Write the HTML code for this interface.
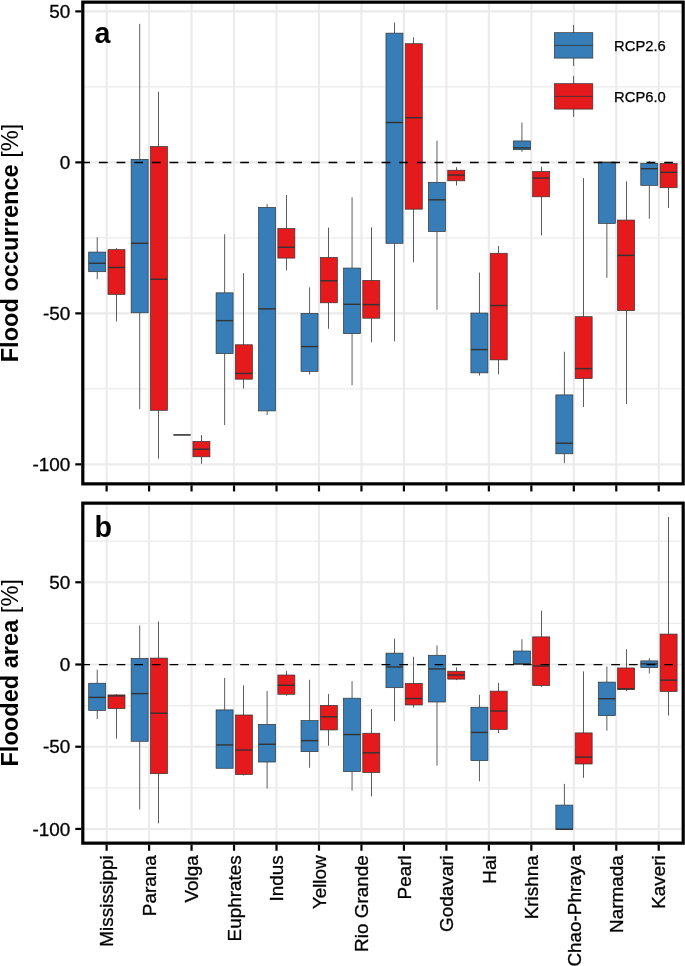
<!DOCTYPE html>
<html><head><meta charset="utf-8"><title>Flood boxplots</title><style>
html,body{margin:0;padding:0;background:#fff;}
body{width:685px;height:966px;overflow:hidden;font-family:"Liberation Sans",sans-serif;}
svg{display:block;will-change:transform;font-family:"Liberation Sans",sans-serif;}
.gm{stroke:#ebebeb;stroke-width:2.1;fill:none}
.gn{stroke:#ebebeb;stroke-width:1.1;fill:none}
.w{stroke:#333;stroke-width:0.8;fill:none}
.b{stroke:#333;stroke-width:0.7}
.m{stroke:#333;stroke-width:1.4;fill:none}
.z{stroke:#000;stroke-width:1.45;stroke-dasharray:8.75 8.917;fill:none}
.fr{stroke:#000;stroke-width:3.2;fill:none}
.t{stroke:#000;stroke-width:2.2;fill:none}
.yl{font-size:18.9px;text-anchor:end;fill:#000;stroke:#000;stroke-width:0.3px}
.xl{font-size:18.9px;text-anchor:end;fill:#000;stroke:#000;stroke-width:0.3px}
.lg{font-size:14.75px;fill:#000;stroke:#000;stroke-width:0.25px}
.pl{font-size:28.6px;font-weight:bold;fill:#000}
.yt{font-size:23.6px;text-anchor:middle;fill:#000}
.bd{font-weight:bold}
</style></head><body><svg width="685" height="966" viewBox="0 0 685 966"><rect width="685" height="966" fill="#fff"/><path d="M82.8 86.89H683.2" class="gn"/><path d="M82.8 237.87H683.2" class="gn"/><path d="M82.8 388.86H683.2" class="gn"/><path d="M82.8 11.4H683.2" class="gm"/><path d="M82.8 162.38H683.2" class="gm"/><path d="M82.8 313.37H683.2" class="gm"/><path d="M82.8 464.35H683.2" class="gm"/><path d="M106.63 2.15V483.85" class="gm"/><path d="M149.1 2.15V483.85" class="gm"/><path d="M191.57 2.15V483.85" class="gm"/><path d="M234.04 2.15V483.85" class="gm"/><path d="M276.51 2.15V483.85" class="gm"/><path d="M318.98 2.15V483.85" class="gm"/><path d="M361.45 2.15V483.85" class="gm"/><path d="M403.92 2.15V483.85" class="gm"/><path d="M446.39 2.15V483.85" class="gm"/><path d="M488.86 2.15V483.85" class="gm"/><path d="M531.33 2.15V483.85" class="gm"/><path d="M573.8 2.15V483.85" class="gm"/><path d="M616.27 2.15V483.85" class="gm"/><path d="M658.74 2.15V483.85" class="gm"/><path d="M97.23 237.27V252.07" class="w"/><path d="M97.23 271.69V279.24" class="w"/><rect x="88.68" y="252.07" width="17" height="19.63" fill="#377EB8" class="b"/><path d="M88.68 263.24H105.68" class="m"/><path d="M116.5 248.14V249.65" class="w"/><path d="M116.5 294.34V321.52" class="w"/><rect x="107.98" y="249.65" width="17" height="44.69" fill="#E41A1C" class="b"/><path d="M107.98 267.47H124.98" class="m"/><path d="M139.7 23.78V159.36" class="w"/><path d="M139.7 312.76V409.09" class="w"/><rect x="131.15" y="159.36" width="17" height="153.4" fill="#377EB8" class="b"/><path d="M131.15 243.31H148.15" class="m"/><path d="M158.5 91.72V146.53" class="w"/><path d="M158.5 410.3V458.61" class="w"/><rect x="150.45" y="146.53" width="17" height="263.77" fill="#E41A1C" class="b"/><path d="M150.45 279.24H167.45" class="m"/><rect x="173.62" y="434.91" width="17" height="0.01" fill="#377EB8" class="b"/><path d="M173.62 434.91H190.62" class="m"/><path d="M201.5 435.06V441.4" class="w"/><path d="M201.5 456.8V463.75" class="w"/><rect x="192.92" y="441.4" width="17" height="15.4" fill="#E41A1C" class="b"/><path d="M192.92 449.25H209.92" class="m"/><path d="M224.64 234.25V292.83" class="w"/><path d="M224.64 353.53V425.09" class="w"/><rect x="216.09" y="292.83" width="17" height="60.7" fill="#377EB8" class="b"/><path d="M216.09 320.61H233.09" class="m"/><path d="M243.5 273.2V344.77" class="w"/><path d="M243.5 379.19V388.56" class="w"/><rect x="235.39" y="344.77" width="17" height="34.42" fill="#E41A1C" class="b"/><path d="M235.39 373.46H252.39" class="m"/><path d="M267.11 204.05V207.37" class="w"/><path d="M267.11 410.9V415.13" class="w"/><rect x="258.56" y="207.37" width="17" height="203.53" fill="#377EB8" class="b"/><path d="M258.56 308.84H275.56" class="m"/><path d="M286.5 194.99V228.51" class="w"/><path d="M286.5 258.1V270.49" class="w"/><rect x="277.86" y="228.51" width="17" height="29.59" fill="#E41A1C" class="b"/><path d="M277.86 247.23H294.86" class="m"/><path d="M309.58 287.4V313.37" class="w"/><path d="M309.58 371.34V374.66" class="w"/><rect x="301.03" y="313.37" width="17" height="57.98" fill="#377EB8" class="b"/><path d="M301.03 346.58H318.03" class="m"/><path d="M328.5 227.61V257.5" class="w"/><path d="M328.5 302.8V328.77" class="w"/><rect x="320.33" y="257.5" width="17" height="45.3" fill="#E41A1C" class="b"/><path d="M320.33 280.75H337.33" class="m"/><path d="M352.05 197.41V268.07" class="w"/><path d="M352.05 333.6V385.23" class="w"/><rect x="343.5" y="268.07" width="17" height="65.53" fill="#377EB8" class="b"/><path d="M343.5 304.31H360.5" class="m"/><path d="M371.5 227.3V280.45" class="w"/><path d="M371.5 318.2V342.35" class="w"/><rect x="362.8" y="280.45" width="17" height="37.75" fill="#E41A1C" class="b"/><path d="M362.8 304.61H379.8" class="m"/><path d="M394.52 22.57V33.14" class="w"/><path d="M394.52 243.31V341.45" class="w"/><rect x="385.97" y="33.14" width="17" height="210.17" fill="#377EB8" class="b"/><path d="M385.97 122.52H402.97" class="m"/><path d="M413.5 37.36V43.71" class="w"/><path d="M413.5 209.19V262.33" class="w"/><rect x="405.27" y="43.71" width="17" height="165.48" fill="#E41A1C" class="b"/><path d="M405.27 117.69H422.27" class="m"/><path d="M436.99 140.64V182.31" class="w"/><path d="M436.99 231.53V309.74" class="w"/><rect x="428.44" y="182.31" width="17" height="49.22" fill="#377EB8" class="b"/><path d="M428.44 199.82H445.44" class="m"/><path d="M456.5 167.21V170.23" class="w"/><path d="M456.5 180.8V185.63" class="w"/><rect x="447.74" y="170.23" width="17" height="10.57" fill="#E41A1C" class="b"/><path d="M447.74 175.06H464.74" class="m"/><path d="M479.46 272.6V313.06" class="w"/><path d="M479.46 372.85V375.57" class="w"/><rect x="470.91" y="313.06" width="17" height="59.79" fill="#377EB8" class="b"/><path d="M470.91 349.6H487.91" class="m"/><path d="M498.5 246.03V253.27" class="w"/><path d="M498.5 359.87V374.36" class="w"/><rect x="490.21" y="253.27" width="17" height="106.6" fill="#E41A1C" class="b"/><path d="M490.21 305.51H507.21" class="m"/><path d="M521.93 122.52V140.94" class="w"/><path d="M521.93 149.7V151.81" class="w"/><rect x="513.38" y="140.94" width="17" height="8.76" fill="#377EB8" class="b"/><path d="M513.38 147.89H530.38" class="m"/><path d="M541.5 166.61V171.44" class="w"/><path d="M541.5 196.8V235.46" class="w"/><rect x="532.68" y="171.44" width="17" height="25.37" fill="#E41A1C" class="b"/><path d="M532.68 178.08H549.68" class="m"/><path d="M564.4 351.72V394.9" class="w"/><path d="M564.4 453.78V463.14" class="w"/><rect x="555.85" y="394.9" width="17" height="58.88" fill="#377EB8" class="b"/><path d="M555.85 443.21H572.85" class="m"/><path d="M583.5 178.08V316.69" class="w"/><path d="M583.5 378.59V406.98" class="w"/><rect x="575.15" y="316.69" width="17" height="61.9" fill="#E41A1C" class="b"/><path d="M575.15 368.63H592.15" class="m"/><path d="M606.87 223.38V277.73" class="w"/><rect x="598.32" y="162.38" width="17" height="61" fill="#377EB8" class="b"/><path d="M598.32 162.38H615.32" class="m"/><path d="M626.5 181.4V220.06" class="w"/><path d="M626.5 310.65V403.96" class="w"/><rect x="617.62" y="220.06" width="17" height="90.59" fill="#E41A1C" class="b"/><path d="M617.62 255.39H634.62" class="m"/><path d="M649.34 160.87V163.29" class="w"/><path d="M649.34 185.33V218.85" class="w"/><rect x="640.79" y="163.29" width="17" height="22.04" fill="#377EB8" class="b"/><path d="M640.79 168.72H657.79" class="m"/><path d="M668.5 162.08V163.59" class="w"/><path d="M668.5 187.75V207.98" class="w"/><rect x="660.09" y="163.59" width="17" height="24.16" fill="#E41A1C" class="b"/><path d="M660.09 172.35H677.09" class="m"/><path d="M81.23 162.48H683.2" class="z"/><path d="M573.6 24.9V32.7M573.6 58.1V65.9" class="w"/><rect x="554.4" y="32.7" width="38.4" height="25.4" fill="#377EB8" class="b"/><path d="M554.4 45.4H592.8" class="w"/><path d="M573.6 75.9V83.7M573.6 109.1V116.9" class="w"/><rect x="554.4" y="83.7" width="38.4" height="25.4" fill="#E41A1C" class="b"/><path d="M554.4 96.4H592.8" class="w"/><text x="614.1" y="50.6" class="lg">RCP2.6</text><text x="614.1" y="101.6" class="lg">RCP6.0</text><rect x="82.8" y="2.15" width="600.4" height="481.7" class="fr"/><path d="M75.3 11.4H81.3" class="t"/><text x="70.3" y="18.15" class="yl">50</text><path d="M75.3 162.38H81.3" class="t"/><text x="70.3" y="169.13" class="yl">0</text><path d="M75.3 313.37H81.3" class="t"/><text x="70.3" y="320.12" class="yl">-50</text><path d="M75.3 464.35H81.3" class="t"/><text x="70.3" y="471.1" class="yl">-100</text><path d="M106.63 485.35V491.45" class="t"/><path d="M149.1 485.35V491.45" class="t"/><path d="M191.57 485.35V491.45" class="t"/><path d="M234.04 485.35V491.45" class="t"/><path d="M276.51 485.35V491.45" class="t"/><path d="M318.98 485.35V491.45" class="t"/><path d="M361.45 485.35V491.45" class="t"/><path d="M403.92 485.35V491.45" class="t"/><path d="M446.39 485.35V491.45" class="t"/><path d="M488.86 485.35V491.45" class="t"/><path d="M531.33 485.35V491.45" class="t"/><path d="M573.8 485.35V491.45" class="t"/><path d="M616.27 485.35V491.45" class="t"/><path d="M658.74 485.35V491.45" class="t"/><path d="M82.8 541.16H683.2" class="gn"/><path d="M82.8 623.39H683.2" class="gn"/><path d="M82.8 705.61H683.2" class="gn"/><path d="M82.8 787.84H683.2" class="gn"/><path d="M82.8 582.27H683.2" class="gm"/><path d="M82.8 664.5H683.2" class="gm"/><path d="M82.8 746.73H683.2" class="gm"/><path d="M82.8 828.95H683.2" class="gm"/><path d="M106.63 503.15V843.15" class="gm"/><path d="M149.1 503.15V843.15" class="gm"/><path d="M191.57 503.15V843.15" class="gm"/><path d="M234.04 503.15V843.15" class="gm"/><path d="M276.51 503.15V843.15" class="gm"/><path d="M318.98 503.15V843.15" class="gm"/><path d="M361.45 503.15V843.15" class="gm"/><path d="M403.92 503.15V843.15" class="gm"/><path d="M446.39 503.15V843.15" class="gm"/><path d="M488.86 503.15V843.15" class="gm"/><path d="M531.33 503.15V843.15" class="gm"/><path d="M573.8 503.15V843.15" class="gm"/><path d="M616.27 503.15V843.15" class="gm"/><path d="M658.74 503.15V843.15" class="gm"/><path d="M97.23 669.6V683.25" class="w"/><path d="M97.23 710.38V719.1" class="w"/><rect x="88.68" y="683.25" width="17" height="27.13" fill="#377EB8" class="b"/><path d="M88.68 697.39H105.68" class="m"/><path d="M116.5 694.1V694.92" class="w"/><path d="M116.5 708.57V738.5" class="w"/><rect x="107.98" y="694.92" width="17" height="13.65" fill="#E41A1C" class="b"/><path d="M107.98 695.91H124.98" class="m"/><path d="M139.7 625.36V658.42" class="w"/><path d="M139.7 741.3V809.54" class="w"/><rect x="131.15" y="658.42" width="17" height="82.88" fill="#377EB8" class="b"/><path d="M131.15 693.61H148.15" class="m"/><path d="M158.5 621.58V658.09" class="w"/><path d="M158.5 773.69V823.36" class="w"/><rect x="150.45" y="658.09" width="17" height="115.61" fill="#E41A1C" class="b"/><path d="M150.45 713.18H167.45" class="m"/><path d="M224.64 677.98V709.89" class="w"/><rect x="216.09" y="709.89" width="17" height="58.38" fill="#377EB8" class="b"/><path d="M216.09 744.92H233.09" class="m"/><path d="M243.5 685.39V714.99" class="w"/><path d="M243.5 774.52V775.5" class="w"/><rect x="235.39" y="714.99" width="17" height="59.53" fill="#E41A1C" class="b"/><path d="M235.39 750.01H252.39" class="m"/><path d="M267.11 690.98V724.36" class="w"/><path d="M267.11 762.02V788.5" class="w"/><rect x="258.56" y="724.36" width="17" height="37.66" fill="#377EB8" class="b"/><path d="M258.56 744.26H275.56" class="m"/><path d="M286.5 670.91V675.02" class="w"/><path d="M286.5 694.27V695.75" class="w"/><rect x="277.86" y="675.02" width="17" height="19.24" fill="#E41A1C" class="b"/><path d="M277.86 685.22H294.86" class="m"/><path d="M309.58 679.79V720.58" class="w"/><path d="M309.58 751.66V767.77" class="w"/><rect x="301.03" y="720.58" width="17" height="31.08" fill="#377EB8" class="b"/><path d="M301.03 740.64H318.03" class="m"/><path d="M328.5 693.94V705.45" class="w"/><path d="M328.5 729.95V745.74" class="w"/><rect x="320.33" y="705.45" width="17" height="24.5" fill="#E41A1C" class="b"/><path d="M320.33 716.8H337.33" class="m"/><path d="M352.05 681.11V698.21" class="w"/><path d="M352.05 771.56V790.63" class="w"/><rect x="343.5" y="698.21" width="17" height="73.34" fill="#377EB8" class="b"/><path d="M343.5 734.56H360.5" class="m"/><path d="M371.5 709.07V733.24" class="w"/><path d="M371.5 772.54V796.39" class="w"/><rect x="362.8" y="733.24" width="17" height="39.3" fill="#E41A1C" class="b"/><path d="M362.8 752.81H379.8" class="m"/><path d="M394.52 638.68V653.15" class="w"/><path d="M394.52 687.69V721.24" class="w"/><rect x="385.97" y="653.15" width="17" height="34.53" fill="#377EB8" class="b"/><path d="M385.97 666.97H402.97" class="m"/><path d="M413.5 656.77V683.41" class="w"/><path d="M413.5 704.95V707.59" class="w"/><rect x="405.27" y="683.41" width="17" height="21.54" fill="#E41A1C" class="b"/><path d="M405.27 698.54H422.27" class="m"/><path d="M436.99 645.42V655.29" class="w"/><path d="M436.99 701.99V765.64" class="w"/><rect x="428.44" y="655.29" width="17" height="46.7" fill="#377EB8" class="b"/><path d="M428.44 668.94H445.44" class="m"/><path d="M456.5 667.46V671.24" class="w"/><path d="M456.5 679.14V680.12" class="w"/><rect x="447.74" y="671.24" width="17" height="7.89" fill="#E41A1C" class="b"/><path d="M447.74 675.02H464.74" class="m"/><path d="M479.46 694.76V707.26" class="w"/><path d="M479.46 760.54V781.26" class="w"/><rect x="470.91" y="707.26" width="17" height="53.28" fill="#377EB8" class="b"/><path d="M470.91 732.42H487.91" class="m"/><path d="M498.5 682.92V691.14" class="w"/><path d="M498.5 729.46V733.08" class="w"/><rect x="490.21" y="691.14" width="17" height="38.32" fill="#E41A1C" class="b"/><path d="M490.21 711.04H507.21" class="m"/><path d="M521.93 639.17V651.02" class="w"/><rect x="513.38" y="651.02" width="17" height="12.99" fill="#377EB8" class="b"/><path d="M513.38 664.01H530.38" class="m"/><path d="M541.5 610.56V636.87" class="w"/><path d="M541.5 685.55V686.7" class="w"/><rect x="532.68" y="636.87" width="17" height="48.68" fill="#E41A1C" class="b"/><path d="M532.68 665.98H549.68" class="m"/><path d="M564.4 783.89V805.1" class="w"/><rect x="555.85" y="805.1" width="17" height="24.17" fill="#377EB8" class="b"/><path d="M555.85 829.28H572.85" class="m"/><path d="M583.5 671.41V732.91" class="w"/><path d="M583.5 763.99V777.81" class="w"/><rect x="575.15" y="732.91" width="17" height="31.08" fill="#E41A1C" class="b"/><path d="M575.15 757.09H592.15" class="m"/><path d="M606.87 666.47V682.1" class="w"/><path d="M606.87 715.64V730.61" class="w"/><rect x="598.32" y="682.1" width="17" height="33.55" fill="#377EB8" class="b"/><path d="M598.32 698.71H615.32" class="m"/><path d="M626.5 649.21V667.95" class="w"/><path d="M626.5 689.5V690.81" class="w"/><rect x="617.62" y="667.95" width="17" height="21.54" fill="#E41A1C" class="b"/><path d="M617.62 688.84H634.62" class="m"/><path d="M649.34 658.25V660.88" class="w"/><path d="M649.34 667.62V673.54" class="w"/><rect x="640.79" y="660.88" width="17" height="6.74" fill="#377EB8" class="b"/><path d="M640.79 663.84H657.79" class="m"/><path d="M668.5 516.99V634.08" class="w"/><path d="M668.5 691.47V715.64" class="w"/><rect x="660.09" y="634.08" width="17" height="57.39" fill="#E41A1C" class="b"/><path d="M660.09 680.12H677.09" class="m"/><path d="M81.23 664.6H683.2" class="z"/><rect x="82.8" y="503.15" width="600.4" height="340" class="fr"/><path d="M75.3 582.27H81.3" class="t"/><text x="70.3" y="589.02" class="yl">50</text><path d="M75.3 664.5H81.3" class="t"/><text x="70.3" y="671.25" class="yl">0</text><path d="M75.3 746.73H81.3" class="t"/><text x="70.3" y="753.48" class="yl">-50</text><path d="M75.3 828.95H81.3" class="t"/><text x="70.3" y="835.7" class="yl">-100</text><path d="M106.63 844.65V850.75" class="t"/><path d="M149.1 844.65V850.75" class="t"/><path d="M191.57 844.65V850.75" class="t"/><path d="M234.04 844.65V850.75" class="t"/><path d="M276.51 844.65V850.75" class="t"/><path d="M318.98 844.65V850.75" class="t"/><path d="M361.45 844.65V850.75" class="t"/><path d="M403.92 844.65V850.75" class="t"/><path d="M446.39 844.65V850.75" class="t"/><path d="M488.86 844.65V850.75" class="t"/><path d="M531.33 844.65V850.75" class="t"/><path d="M573.8 844.65V850.75" class="t"/><path d="M616.27 844.65V850.75" class="t"/><path d="M658.74 844.65V850.75" class="t"/><text x="94.4" y="43.3" class="pl">a</text><text x="94.4" y="537.3" class="pl">b</text><text transform="translate(113.33 855.3) rotate(-90)" class="xl">Mississippi</text><text transform="translate(155.8 855.3) rotate(-90)" class="xl">Parana</text><text transform="translate(198.27 855.3) rotate(-90)" class="xl">Volga</text><text transform="translate(240.74 855.3) rotate(-90)" class="xl">Euphrates</text><text transform="translate(283.21 855.3) rotate(-90)" class="xl">Indus</text><text transform="translate(325.68 855.3) rotate(-90)" class="xl">Yellow</text><text transform="translate(368.15 855.3) rotate(-90)" class="xl">Rio Grande</text><text transform="translate(410.62 855.3) rotate(-90)" class="xl">Pearl</text><text transform="translate(453.09 855.3) rotate(-90)" class="xl">Godavari</text><text transform="translate(495.56 855.3) rotate(-90)" class="xl">Hai</text><text transform="translate(538.03 855.3) rotate(-90)" class="xl">Krishna</text><text transform="translate(580.5 855.3) rotate(-90)" class="xl">Chao-Phraya</text><text transform="translate(622.97 855.3) rotate(-90)" class="xl">Narmada</text><text transform="translate(665.44 855.3) rotate(-90)" class="xl">Kaveri</text><text transform="translate(17.8 243) rotate(-90)" class="yt"><tspan class="bd">Flood occurrence </tspan>[%]</text><text transform="translate(17.8 672.8) rotate(-90)" class="yt"><tspan class="bd">Flooded area </tspan>[%]</text></svg></body></html>
